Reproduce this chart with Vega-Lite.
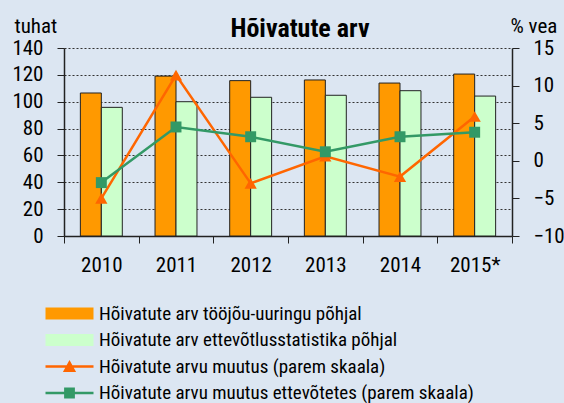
{
  "$schema": "https://vega.github.io/schema/vega-lite/v6.json",
  "width": 448,
  "height": 188,
  "autosize": {"type": "none"},
  "padding": {"left": 64, "top": 48, "right": 52, "bottom": 167},
  "background": "#dce6f2",
  "title": {"text": "Hõivatute arv", "fontSize": 26, "fontWeight": "bold", "anchor": "middle", "dx": 12, "dy": 35, "offset": 8, "color": "#000"},
  "datasets": {
    "bars": [
      {"year": "2010", "series": "Hõivatute arv tööjõu-uuringu põhjal", "value": 106.5},
      {"year": "2010", "series": "Hõivatute arv ettevõtlusstatistika põhjal", "value": 95.8},
      {"year": "2011", "series": "Hõivatute arv tööjõu-uuringu põhjal", "value": 119.1},
      {"year": "2011", "series": "Hõivatute arv ettevõtlusstatistika põhjal", "value": 100.0},
      {"year": "2012", "series": "Hõivatute arv tööjõu-uuringu põhjal", "value": 115.7},
      {"year": "2012", "series": "Hõivatute arv ettevõtlusstatistika põhjal", "value": 103.3},
      {"year": "2013", "series": "Hõivatute arv tööjõu-uuringu põhjal", "value": 116.2},
      {"year": "2013", "series": "Hõivatute arv ettevõtlusstatistika põhjal", "value": 104.8},
      {"year": "2014", "series": "Hõivatute arv tööjõu-uuringu põhjal", "value": 113.9},
      {"year": "2014", "series": "Hõivatute arv ettevõtlusstatistika põhjal", "value": 108.2},
      {"year": "2015*", "series": "Hõivatute arv tööjõu-uuringu põhjal", "value": 120.6},
      {"year": "2015*", "series": "Hõivatute arv ettevõtlusstatistika põhjal", "value": 104.2}
    ],
    "lines": [
      {"year": "2010", "series": "Hõivatute arvu muutus (parem skaala)", "value": -5.0},
      {"year": "2011", "series": "Hõivatute arvu muutus (parem skaala)", "value": 11.4},
      {"year": "2012", "series": "Hõivatute arvu muutus (parem skaala)", "value": -3.0},
      {"year": "2013", "series": "Hõivatute arvu muutus (parem skaala)", "value": 0.6},
      {"year": "2014", "series": "Hõivatute arvu muutus (parem skaala)", "value": -2.1},
      {"year": "2015*", "series": "Hõivatute arvu muutus (parem skaala)", "value": 5.9},
      {"year": "2010", "series": "Hõivatute arvu muutus ettevõtetes (parem skaala)", "value": -2.9},
      {"year": "2011", "series": "Hõivatute arvu muutus ettevõtetes (parem skaala)", "value": 4.5},
      {"year": "2012", "series": "Hõivatute arvu muutus ettevõtetes (parem skaala)", "value": 3.2},
      {"year": "2013", "series": "Hõivatute arvu muutus ettevõtetes (parem skaala)", "value": 1.2},
      {"year": "2014", "series": "Hõivatute arvu muutus ettevõtetes (parem skaala)", "value": 3.2},
      {"year": "2015*", "series": "Hõivatute arvu muutus ettevõtetes (parem skaala)", "value": 3.8}
    ]
  },
  "layer": [
    {
      "data": {"name": "bars"},
      "mark": {"type": "bar", "stroke": "#222", "strokeWidth": 1},
      "encoding": {
        "x": {"field": "year", "type": "nominal", "sort": null, "scale": {"paddingInner": 0, "paddingOuter": 0},
              "axis": {"title": null, "labelAngle": 0, "tickBand": "extent", "labelPadding": 11, "labelFontSize": 21}},
        "xOffset": {"field": "series", "type": "nominal", "sort": null, "scale": {"paddingInner": 0, "paddingOuter": 0.78}},
        "y": {"field": "value", "type": "quantitative", "scale": {"domain": [0, 140], "nice": false},
              "axis": {"orient": "left", "values": [0, 20, 40, 60, 80, 100, 120, 140], "grid": true, "gridDash": [2, 2], "gridColor": "#333", "gridWidth": 1,
                       "labelPadding": 14, "labelOverlap": false, "title": "tuhat", "titleAngle": 0, "titleAlign": "left", "titleBaseline": "alphabetic", "titleX": -50, "titleY": -16,
                       "titleFontSize": 21, "titleFontWeight": "normal"}},
        "color": {"field": "series", "type": "nominal",
                  "scale": {"domain": ["Hõivatute arv tööjõu-uuringu põhjal", "Hõivatute arv ettevõtlusstatistika põhjal", "Hõivatute arvu muutus (parem skaala)", "Hõivatute arvu muutus ettevõtetes (parem skaala)"],
                            "range": ["#ff9900", "#ccffcc", "#ff6600", "#339966"]},
                  "legend": {"title": null, "orient": "none", "legendX": -4, "legendY": 256, "direction": "vertical", "columns": 1, "padding": 0,
                             "symbolSize": 144, "labelOffset": 20, "labelFontSize": 19, "labelColor": "#000", "rowPadding": 6.5, "labelLimit": 500,
                             "symbolStrokeWidth": 0, "symbolOpacity": 1}}
      }
    },
    {
      "data": {"name": "lines"},
      "encoding": {
        "x": {"field": "year", "type": "nominal", "sort": null},
        "y": {"field": "value", "type": "quantitative", "scale": {"domain": [-10, 15], "nice": false},
              "axis": {"orient": "right", "values": [-10, -5, 0, 5, 10, 15], "grid": false, "labelPadding": 14, "labelOverlap": false,
                       "title": "% vea", "titleAngle": 0, "titleAlign": "left", "titleBaseline": "alphabetic", "titleX": -2, "titleY": -16,
                       "titleFontSize": 21, "titleFontWeight": "normal"}},
        "color": {"field": "series", "type": "nominal"}
      },
      "layer": [
        {"mark": {"type": "line", "strokeWidth": 2.5}},
        {
          "transform": [{"filter": "datum.series == 'Hõivatute arvu muutus (parem skaala)'"}],
          "mark": {"type": "point", "shape": "triangle-up", "filled": true, "opacity": 1, "size": 150}
        },
        {
          "transform": [{"filter": "datum.series == 'Hõivatute arvu muutus ettevõtetes (parem skaala)'"}],
          "mark": {"type": "point", "shape": "square", "filled": true, "opacity": 1, "size": 120}
        },
        {
          "mark": {"type": "point", "filled": true, "opacity": 0},
          "encoding": {
            "shape": {"field": "series", "type": "nominal",
                      "scale": {"domain": ["Hõivatute arv tööjõu-uuringu põhjal", "Hõivatute arv ettevõtlusstatistika põhjal", "Hõivatute arvu muutus (parem skaala)", "Hõivatute arvu muutus ettevõtetes (parem skaala)"],
                                "range": ["M-4,-1H4V1H-4Z", "M-4,-1H4V1H-4Z", "M-4,-0.2H4V0.2H-4ZM-1.1,0.9L0,-1.1L1.1,0.9Z", "M-4,-0.2H4V0.2H-4ZM-0.9,-0.9H0.9V0.9H-0.9Z"]},
                      "legend": {"title": null, "orient": "none", "legendX": -4, "legendY": 256, "direction": "vertical", "columns": 1, "padding": 0,
                                 "symbolSize": 144, "labelOffset": 20, "labelFontSize": 19, "labelColor": "#000", "rowPadding": 6.5, "labelLimit": 500,
                                 "symbolStrokeWidth": 0, "symbolOpacity": 1}}
          }
        }
      ]
    }
  ],
  "resolve": {"scale": {"y": "independent"}},
  "config": {
    "font": "Roboto Condensed, Liberation Sans Narrow, DejaVu Sans Condensed, Roboto, sans-serif",
    "view": {"stroke": null},
    "axis": {"labelFontSize": 21, "labelColor": "#000", "titleColor": "#000", "domainColor": "#222", "tickColor": "#222", "tickSize": 7, "domainWidth": 1.5}
  }
}
